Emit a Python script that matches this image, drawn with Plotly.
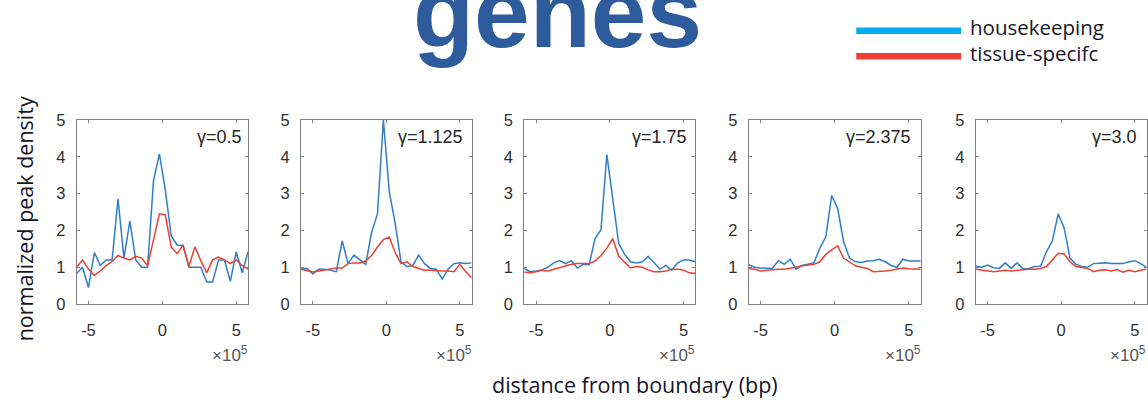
import plotly.graph_objects as go

# ---------------- data ----------------
distance_1e5 = [-5.8, -5.4, -5.0, -4.6, -4.2, -3.8, -3.4, -3.0, -2.6, -2.2,
                -1.8, -1.4, -1.0, -0.6, -0.2, 0.2, 0.6, 1.0, 1.4, 1.8,
                2.2, 2.6, 3.0, 3.4, 3.8, 4.2, 4.6, 5.0, 5.4, 5.8]

gamma_labels = ["γ=0.5", "γ=1.125", "γ=1.75", "γ=2.375", "γ=3.0"]

housekeeping_g0500 = [0.83, 1.0, 0.45, 1.4, 1.05, 1.2, 1.2, 2.86, 1.25, 2.25,
                      1.2, 1.0, 1.0, 3.35, 4.08, 3.1, 1.85, 1.6, 1.6, 1.0,
                      1.0, 1.0, 0.6, 0.6, 1.2, 1.2, 0.62, 1.42, 0.85, 1.42]
tissue_g0500 = [1.0, 1.2, 0.95, 0.78, 0.9, 1.05, 1.15, 1.32, 1.25, 1.2,
                1.3, 1.25, 1.04, 1.75, 2.45, 2.42, 1.55, 1.37, 1.6, 1.02,
                1.56, 1.18, 0.85, 1.2, 1.28, 1.2, 1.1, 1.2, 1.05, 0.95]

housekeeping_g1125 = [0.95, 0.97, 0.82, 0.95, 0.95, 0.92, 0.88, 1.72, 1.1, 1.33,
                      1.2, 1.08, 1.95, 2.45, 5.0, 3.05, 2.2, 1.15, 1.02, 1.05,
                      1.33, 1.1, 0.97, 0.95, 0.68, 0.95, 1.1, 1.12, 1.1, 1.12]
tissue_g1125 = [0.95, 0.92, 0.87, 0.9, 0.93, 0.97, 0.98, 0.98, 1.1, 1.12,
                1.12, 1.17, 1.32, 1.55, 1.75, 1.82, 1.4, 1.1, 1.15, 1.02,
                0.97, 0.92, 0.92, 0.9, 0.9, 0.9, 0.88, 1.08, 0.88, 0.72]

housekeeping_g1750 = [0.97, 0.88, 0.9, 0.93, 1.0, 1.12, 1.18, 1.1, 1.18, 0.98,
                      1.08, 1.07, 1.78, 2.02, 4.06, 2.8, 1.65, 1.35, 1.15, 1.12,
                      1.15, 1.3, 1.12, 0.95, 1.05, 0.92, 1.12, 1.2, 1.2, 1.15]
tissue_g1750 = [0.87, 0.85, 0.88, 0.92, 0.9, 0.95, 1.0, 1.03, 1.08, 1.1,
                1.1, 1.1, 1.17, 1.32, 1.52, 1.78, 1.3, 1.15, 0.98, 1.02,
                1.0, 0.93, 0.88, 0.88, 0.9, 0.95, 0.95, 0.92, 0.85, 0.83]

housekeeping_g2375 = [1.07, 1.0, 0.98, 0.97, 0.97, 1.18, 1.08, 1.22, 0.95, 1.05,
                      1.08, 1.12, 1.52, 1.82, 2.95, 2.6, 1.7, 1.25, 1.15, 1.13,
                      1.17, 1.18, 1.22, 1.15, 1.05, 1.0, 1.22, 1.17, 1.17, 1.17]
tissue_g2375 = [0.97, 0.95, 0.9, 0.92, 0.93, 0.95, 0.95, 0.97, 1.0, 1.04,
                1.07, 1.08, 1.15, 1.35, 1.47, 1.58, 1.25, 1.15, 1.04, 1.0,
                0.97, 0.88, 0.88, 0.9, 0.92, 0.96, 0.98, 0.96, 0.95, 0.95]

housekeeping_g3000 = [1.03, 1.0, 1.06, 0.99, 0.97, 1.12, 0.97, 1.12, 0.96, 0.97,
                      1.02, 1.03, 1.42, 1.72, 2.45, 2.07, 1.25, 1.08, 1.02, 1.0,
                      1.1, 1.12, 1.12, 1.1, 1.1, 1.1, 1.15, 1.18, 1.1, 1.0]
tissue_g3000 = [0.95, 0.92, 0.9, 0.88, 0.9, 0.92, 0.9, 0.92, 0.92, 0.95,
                0.95, 0.97, 1.02, 1.2, 1.38, 1.36, 1.15, 1.02, 1.0, 0.97,
                0.88, 0.92, 0.93, 0.9, 0.94, 0.87, 0.92, 0.88, 0.92, 0.95]

housekeeping = [housekeeping_g0500, housekeeping_g1125, housekeeping_g1750,
                housekeeping_g2375, housekeeping_g3000]
tissue_specific = [tissue_g0500, tissue_g1125, tissue_g1750,
                   tissue_g2375, tissue_g3000]

x_tick_vals = [-5, 0, 5]
x_tick_text = ["-5", "0", "5"]
y_tick_vals = [0, 1, 2, 3, 4, 5]

# ---------------- layout geometry (pixels) ----------------
W, H = 1148, 410
panel_px = [(76.7, 248.3), (301.3, 472.0), (524.7, 696.0), (749.3, 921.5), (976.7, 1147.5)]
top_px, bot_px = 116.0, 308.7

BLUE = "#2F7EC7"
RED = "#EC4034"
AX = "#808080"
TICKFONT = dict(family="Liberation Sans, Arial, sans-serif", size=16.5, color="#303030")

fig = go.Figure()
layout = dict(
    width=W, height=H,
    margin=dict(l=0, r=0, t=0, b=0),
    paper_bgcolor="white", plot_bgcolor="white",
    showlegend=False,
)

ydom = [1 - bot_px / H, 1 - top_px / H]
annotations = []
for i in range(5):
    n = "" if i == 0 else str(i + 1)
    x0, x1 = panel_px[i]
    layout["xaxis" + n] = dict(
        domain=[x0 / W, x1 / W], anchor="y" + n, range=[-5.8, 5.8],
        tickmode="array", tickvals=x_tick_vals, ticktext=x_tick_text,
        ticks="inside", ticklen=3, tickcolor=AX, tickwidth=1,
        showline=True, linecolor=AX, linewidth=1, mirror="ticks",
        showgrid=False, zeroline=False, tickfont=TICKFONT,
        ticklabelstandoff=11,
    )
    layout["yaxis" + n] = dict(
        domain=ydom, anchor="x" + n, range=[0, 5],
        tickmode="array", tickvals=y_tick_vals,
        ticks="inside", ticklen=3, tickcolor=AX, tickwidth=1,
        showline=True, linecolor=AX, linewidth=1, mirror="ticks",
        showgrid=False, zeroline=False, tickfont=TICKFONT,
        ticklabelstandoff=7,
    )
    fig.add_trace(go.Scatter(x=distance_1e5, y=housekeeping[i], mode="lines",
                             line=dict(color=BLUE, width=1.5),
                             xaxis="x" + n, yaxis="y" + n, name="housekeeping"))
    fig.add_trace(go.Scatter(x=distance_1e5, y=tissue_specific[i], mode="lines",
                             line=dict(color=RED, width=1.5),
                             xaxis="x" + n, yaxis="y" + n, name="tissue-specifc"))
    # gamma label
    gamma_right = [244, 465, 690, 914, 1140][i]
    annotations.append(dict(text=gamma_labels[i], xref="paper", yref="paper",
                            x=gamma_right / W, y=1 - 134 / H, xanchor="right", yanchor="middle",
                            showarrow=False,
                            font=dict(family="Liberation Sans, Arial, sans-serif", size=18, color="#262626")))
    # exponent label
    annotations.append(dict(text="×10<sup>5</sup>", xref="paper", yref="paper",
                            x=(x1 + 2) / W, y=1 - 361 / H, xanchor="right", yanchor="middle",
                            showarrow=False,
                            font=dict(family="Liberation Sans, Arial, sans-serif", size=17, color="#555555")))

LABELFONT = dict(family="Open Sans, Noto Sans, sans-serif", size=21.5, color="#15152a")
annotations.append(dict(text="normalized peak density", xref="paper", yref="paper",
                        x=24 / W, y=1 - 219 / H, xanchor="center", yanchor="middle",
                        textangle=-90, showarrow=False, font=LABELFONT))
annotations.append(dict(text="distance from boundary (bp)", xref="paper", yref="paper",
                        x=636 / W, y=1 - 393 / H, xanchor="center", yanchor="middle",
                        showarrow=False, font=LABELFONT))
# title (cut off at top)
annotations.append(dict(text="<b>genes</b>", xref="paper", yref="paper",
                        x=557.5 / W, y=1 - 3 / H, xanchor="center", yanchor="middle",
                        showarrow=False,
                        font=dict(family="Liberation Sans, Arial, sans-serif", size=100, color="#2E5B9B")))
# legend
LEGFONT = dict(family="Open Sans, Noto Sans, sans-serif", size=20.5, color="#15152a")
annotations.append(dict(text="housekeeping", xref="paper", yref="paper",
                        x=969 / W, y=1 - 19 / H, xanchor="left", yanchor="middle",
                        showarrow=False, font=LEGFONT))
annotations.append(dict(text="tissue-specifc", xref="paper", yref="paper",
                        x=969 / W, y=1 - 46 / H, xanchor="left", yanchor="middle",
                        showarrow=False, font=LEGFONT))
shapes = [
    dict(type="line", xref="paper", yref="paper", x0=857 / W, x1=962 / W,
         y0=1 - 22.7 / H, y1=1 - 22.7 / H, line=dict(color="#00AEEF", width=6.5)),
    dict(type="line", xref="paper", yref="paper", x0=857 / W, x1=962 / W,
         y0=1 - 49.5 / H, y1=1 - 49.5 / H, line=dict(color="#EE3F36", width=6.5)),
]
layout["annotations"] = annotations
layout["shapes"] = shapes
fig.update_layout(**layout)
fig.write_html("out.html")
